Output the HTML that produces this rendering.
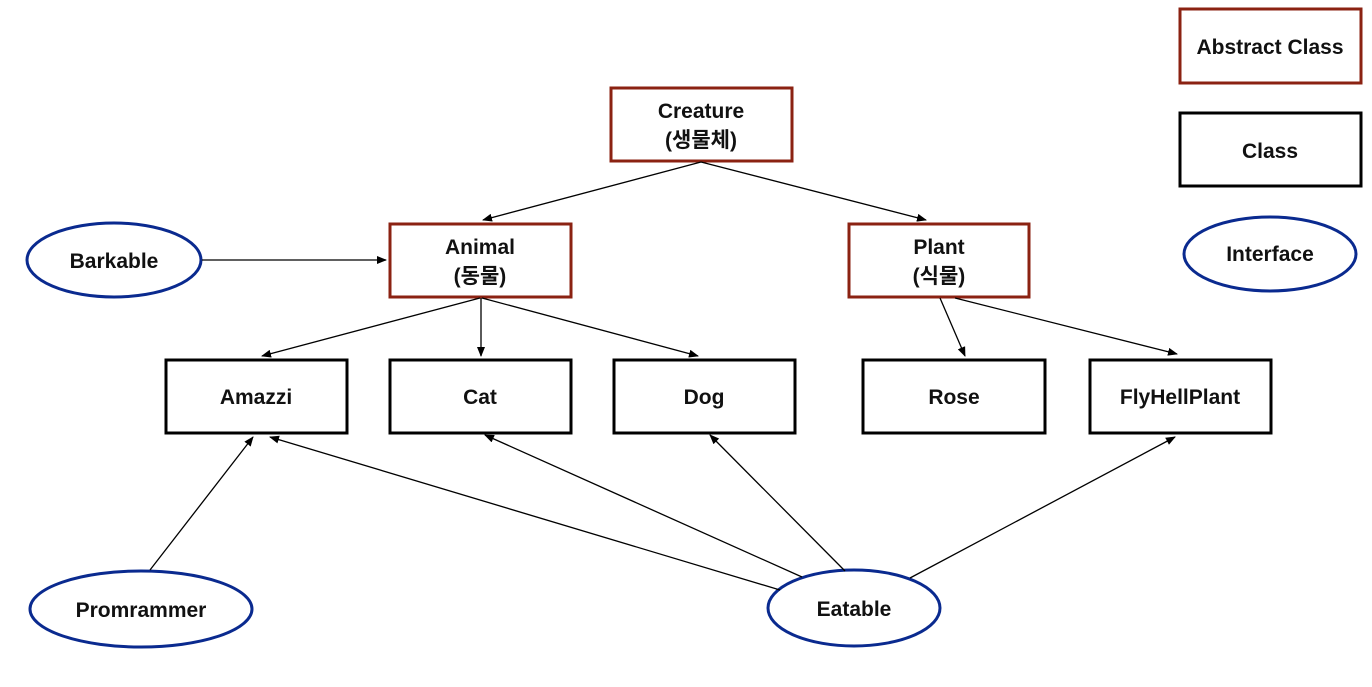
<!DOCTYPE html>
<html><head><meta charset="utf-8"><style>
html,body{margin:0;padding:0;background:#fff;}
svg text{font-family:"Liberation Sans","Noto Sans CJK KR",sans-serif;font-size:21px;font-weight:bold;fill:#111;text-anchor:middle;}
</style></head><body>
<svg width="1372" height="682" viewBox="0 0 1372 682" xmlns="http://www.w3.org/2000/svg">
<defs><marker id="a" markerWidth="10" markerHeight="8" refX="9" refY="4" orient="auto" markerUnits="userSpaceOnUse"><path d="M0,0 L10,4 L0,8 z" fill="#000"/></marker></defs>
<g fill="none" stroke-width="3">
<rect x="611" y="88" width="181" height="73" stroke="#8b2212"/>
<rect x="390" y="224" width="181" height="73" stroke="#8b2212"/>
<rect x="849" y="224" width="180" height="73" stroke="#8b2212"/>
<rect x="1180" y="9" width="181" height="74" stroke="#8b2212"/>
<rect x="166" y="360" width="181" height="73" stroke="#000"/>
<rect x="390" y="360" width="181" height="73" stroke="#000"/>
<rect x="614" y="360" width="181" height="73" stroke="#000"/>
<rect x="863" y="360" width="182" height="73" stroke="#000"/>
<rect x="1090" y="360" width="181" height="73" stroke="#000"/>
<rect x="1180" y="113" width="181" height="73" stroke="#000"/>
<ellipse cx="114" cy="260" rx="87" ry="37" stroke="#0a2a8f"/>
<ellipse cx="141" cy="609" rx="111" ry="38" stroke="#0a2a8f"/>
<ellipse cx="854" cy="608" rx="86" ry="38" stroke="#0a2a8f"/>
<ellipse cx="1270" cy="254" rx="86" ry="37" stroke="#0a2a8f"/>
</g>
<g stroke="#000" stroke-width="1.3" marker-end="url(#a)">
<line x1="701" y1="162" x2="483" y2="220"/>
<line x1="701" y1="162" x2="926" y2="220"/>
<line x1="202" y1="260" x2="386" y2="260"/>
<line x1="480" y1="298" x2="262" y2="356"/>
<line x1="481" y1="298" x2="481" y2="356"/>
<line x1="482" y1="298" x2="698" y2="356"/>
<line x1="940" y1="298" x2="965" y2="356"/>
<line x1="955" y1="298" x2="1177" y2="354"/>
<line x1="150" y1="570" x2="253" y2="437"/>
<line x1="780" y1="590" x2="270" y2="437"/>
<line x1="802" y1="577" x2="485" y2="435"/>
<line x1="845" y1="571" x2="710" y2="435"/>
<line x1="910" y1="578" x2="1175" y2="437"/>
</g>
<text x="701" y="118">Creature</text><text x="701" y="147">(생물체)</text>
<text x="480" y="254">Animal</text><text x="480" y="283">(동물)</text>
<text x="939" y="254">Plant</text><text x="939" y="283">(식물)</text>
<text x="256" y="404">Amazzi</text>
<text x="480" y="404">Cat</text>
<text x="704" y="404">Dog</text>
<text x="954" y="404">Rose</text>
<text x="1180" y="404">FlyHellPlant</text>
<text x="1270" y="54">Abstract Class</text>
<text x="1270" y="158">Class</text>
<text x="1270" y="261">Interface</text>
<text x="114" y="268">Barkable</text>
<text x="141" y="617">Promrammer</text>
<text x="854" y="616">Eatable</text>
</svg>
</body></html>
